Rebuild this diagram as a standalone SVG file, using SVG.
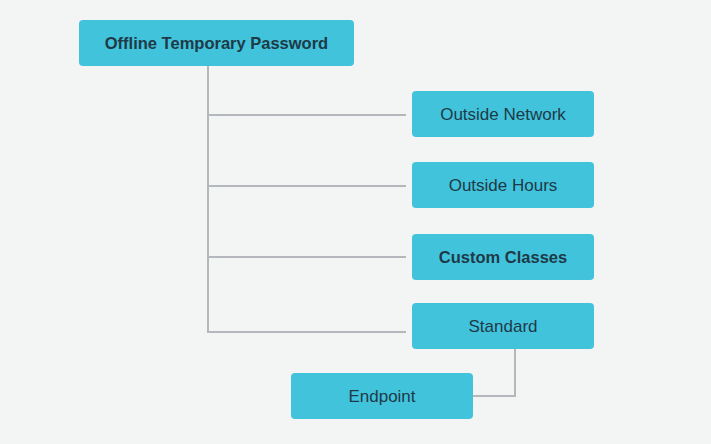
<svg xmlns="http://www.w3.org/2000/svg" width="711" height="444" viewBox="0 0 711 444">
<style>
.node{fill:#42C3DC;}
.t{font-family:"Liberation Sans",Arial,Helvetica,sans-serif;font-size:17px;fill:#1E3A47;text-anchor:middle;}
.b{font-weight:bold;font-size:16.5px;}
.c{fill:none;stroke:#B4B7BB;stroke-width:2;}
</style>
<rect width="711" height="444" fill="#F3F4F4"/>
<g id="connectors">
<path class="c" d="M208,66 V332 H406"/>
<path class="c" d="M208,115 H406"/>
<path class="c" d="M208,186 H406"/>
<path class="c" d="M208,257 H406"/>
<path class="c" d="M515,349 V396 H473"/>
</g>
<g id="node-offline">
<rect class="node" x="79" y="20" width="275" height="46" rx="4"/>
<text class="t b" x="216.5" y="49">Offline Temporary Password</text>
</g>
<g id="node-outside-network">
<rect class="node" x="412" y="91" width="182" height="46" rx="4"/>
<text class="t" x="503" y="120">Outside Network</text>
</g>
<g id="node-outside-hours">
<rect class="node" x="412" y="162" width="182" height="46" rx="4"/>
<text class="t" x="503" y="191">Outside Hours</text>
</g>
<g id="node-custom-classes">
<rect class="node" x="412" y="234" width="182" height="46" rx="4"/>
<text class="t b" x="503" y="263">Custom Classes</text>
</g>
<g id="node-standard">
<rect class="node" x="412" y="303" width="182" height="46" rx="4"/>
<text class="t" x="503" y="332">Standard</text>
</g>
<g id="node-endpoint">
<rect class="node" x="291" y="373" width="182" height="46" rx="4"/>
<text class="t" x="382" y="402">Endpoint</text>
</g>
</svg>
